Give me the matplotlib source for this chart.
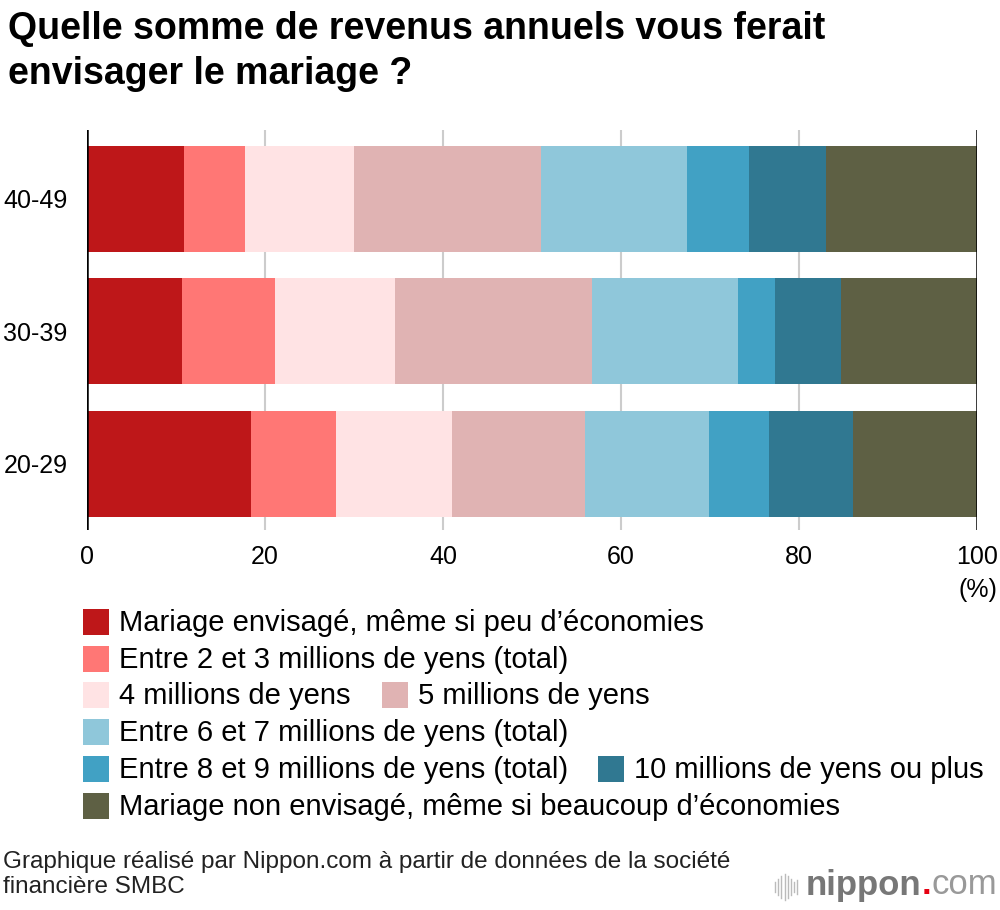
import numpy as np
import matplotlib.pyplot as plt
from matplotlib.patches import Rectangle
from matplotlib.lines import Line2D

plt.rcParams['font.family'] = ['Liberation Sans', 'DejaVu Sans']

# Data (percent), bottom to top
ages = ['20-29', '30-39', '40-49']
series = [
    'Mariage envisagé, même si peu d’économies',
    'Entre 2 et 3 millions de yens (total)',
    '4 millions de yens',
    '5 millions de yens',
    'Entre 6 et 7 millions de yens (total)',
    'Entre 8 et 9 millions de yens (total)',
    '10 millions de yens ou plus',
    'Mariage non envisagé, même si beaucoup d’économies',
]
v_20s = [18.4, 9.6, 13.0, 15.0, 13.9, 6.7, 9.5, 13.9]
v_30s = [10.7, 10.4, 13.5, 22.1, 16.4, 4.2, 7.4, 15.3]
v_40s = [10.9, 6.9, 12.2, 21.0, 16.4, 7.0, 8.6, 17.0]
colors = ['#be1719', '#ff7775', '#ffe3e4', '#e0b3b3',
          '#8fc7da', '#41a1c4', '#307891', '#5e6044']

data = np.array([v_20s, v_30s, v_40s])

W, H = 1000, 910
fig = plt.figure(figsize=(10, 9.1), dpi=100)
ax = fig.add_axes([0.087, 0.4176, 0.89, 0.4396])

y_pos = np.arange(len(ages))
left = np.zeros(len(ages))
for i in range(len(series)):
    ax.barh(y_pos, data[:, i], left=left, height=0.8, color=colors[i], zorder=2)
    left += data[:, i]

ax.set_xlim(0, 100)
ax.set_ylim(-0.5, 2.52)
ax.set_xticks([0, 20, 40, 60, 80, 100])
ax.set_yticks(y_pos)
ax.set_yticklabels(ages)
ax.tick_params(axis='both', length=0, labelsize=18, colors='black')
ax.tick_params(axis='x', pad=11)
ax.tick_params(axis='y', pad=14)
for x in [20, 40, 60, 80]:
    ax.axvline(x, color='#cccccc', lw=1.5, zorder=1)
ax.axvline(0, color='black', lw=1.8, zorder=3)
ax.axvline(100, color='black', lw=1.8, zorder=3)
for s in ax.spines.values():
    s.set_visible(False)

fig.text(0.997, 1 - 590 / H, '(%)', ha='right', va='center', fontsize=18)

# Title
fig.text(0.008, 1 - 39 / H, 'Quelle somme de revenus annuels vous ferait',
         ha='left', va='baseline', fontsize=27, fontweight='bold')
fig.text(0.008, 1 - 84 / H, 'envisager le mariage ?',
         ha='left', va='baseline', fontsize=27, fontweight='bold')

# Legend laid out in rows like the original
legend_layout = [(0, 83), (1, 83), (2, 83), (2, 382), (3, 83), (4, 83), (4, 598), (5, 83)]
row_y = [622, 659, 695, 732, 769, 806]
for i, (row, px) in enumerate(legend_layout):
    yc = row_y[row]
    fig.add_artist(Rectangle((px / W, 1 - (yc + 13) / H), 26 / W, 26 / H,
                             facecolor=colors[i], edgecolor='none', transform=fig.transFigure))
    fig.text((px + 36) / W, 1 - (yc + 1) / H, series[i], ha='left', va='center', fontsize=21)

# Source
fig.text(0.003, 1 - 862 / H, 'Graphique réalisé par Nippon.com à partir de données de la société',
         ha='left', va='center', fontsize=17.5, color='#222222')
fig.text(0.003, 1 - 887 / H, 'financière SMBC',
         ha='left', va='center', fontsize=17.5, color='#222222')

# nippon.com logo
t1 = fig.text(0.806, 1 - 885 / H, 'nippon', ha='left', va='center', fontsize=25,
              fontweight='bold', color='#777777')
fig.canvas.draw()
bb = t1.get_window_extent()
t2 = fig.text(bb.x1 / W, 1 - 885 / H, '.', ha='left', va='center', fontsize=25,
              fontweight='bold', color='#e60012')
bb2 = t2.get_window_extent()
fig.text(bb2.x1 / W, 1 - 885 / H, 'com', ha='left', va='center', fontsize=25, color='#999999')
bar_h = [10, 16, 22, 26, 22, 16, 10, 14]
for k, h in enumerate(bar_h):
    xx = (775 + k * 3.2) / W
    fig.add_artist(Line2D([xx, xx], [1 - (887 + h / 2) / H, 1 - (887 - h / 2) / H],
                          color='#bbbbbb', lw=1, transform=fig.transFigure))

fig.savefig('out.png', dpi=100)
